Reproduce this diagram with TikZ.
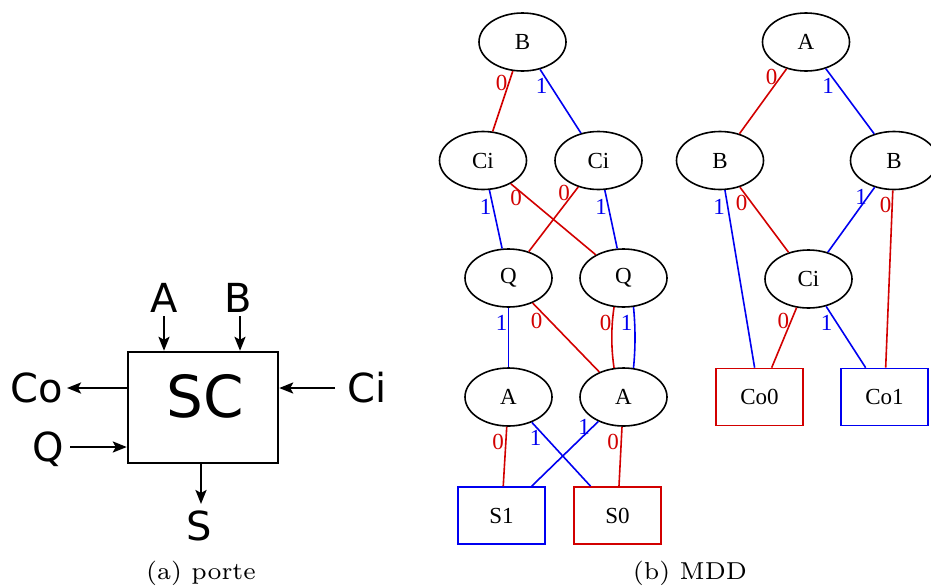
\documentclass[tikz,border=0pt]{standalone}
\usepackage{fontspec}
\usepackage{graphicx}
\newfontfamily\dvs{DejaVu Sans}
\newfontfamily\tms{Liberation Serif}
\usetikzlibrary{shapes.geometric,arrows.meta}
\definecolor{er}{RGB}{210,0,0}
\definecolor{eb}{RGB}{0,0,240}
\begin{document}
\begin{tikzpicture}[x=1pt,y=-1pt,
 bdd/.style={ellipse,draw=black,line width=1.6pt,minimum width=87pt,minimum height=58pt,inner sep=0pt,font=\tms\fontsize{23}{27}\selectfont},
 leaf/.style={rectangle,draw,line width=1.6pt,minimum width=87pt,minimum height=57pt,inner sep=0pt,font=\tms\fontsize{23}{27}\selectfont},
 ez/.style={er,line width=1.6pt},
 eo/.style={eb,line width=1.6pt},
 lz/.style={text=er,inner sep=0pt,font=\tms\fontsize{23}{27}\selectfont},
 lo/.style={text=eb,inner sep=0pt,font=\tms\fontsize{23}{27}\selectfont},
 big/.style={font=\dvs\fontsize{40}{48}\selectfont,inner sep=0pt,anchor=base},
 arr/.style={line width=2.4pt,-{Stealth[length=14pt,width=11pt,inset=3pt]}},
 capt/.style={inner sep=0pt,anchor=base}
]
\useasboundingbox (0,0) rectangle (931,587);

% ---------- (a) porte ----------
\node[draw,line width=2.4pt,minimum width=150pt,minimum height=111pt,inner sep=0pt] (sc) at (203,407.5) {};
\node[font=\dvs\fontsize{58}{64}\selectfont,inner sep=0pt,anchor=base] (sct) at (205.5,417) {SC};
\node[big] (la) at (164,312) {A};
\node[big] (lb) at (238.5,312) {B};
\node[big] (lco) at (37,402) {Co};
\node[big] (lci) at (367,402) {Ci};
\node[big] (lq) at (48,461) {Q};
\node[big] (ls) at (199,540) {S};
\coordinate (pA) at (164,316);
\coordinate (pB) at (240,316);
\coordinate (pCo) at (67,388);
\coordinate (pCi) at (335,388);
\coordinate (pQ) at (70,447);
\coordinate (pS) at (201,504);
\draw[arr] (pA) -- (pA |- sc.north);
\draw[arr] (pB) -- (pB |- sc.north);
\draw[arr] (pCo -| sc.west) -- (pCo);
\draw[arr] (pCi) -- (pCi -| sc.east);
\draw[arr] (pQ) -- (pQ -| sc.west);
\draw[arr] (pS |- sc.south) -- (pS);
\node[capt] (capa) at (201,579) {\scalebox{3.5}{\fontsize{7}{8}\selectfont (a) porte}};

% ---------- (b) MDD, left ----------
\node[bdd] (b1) at (522.5,42) {B};
\node[bdd] (ci1) at (483,160.5) {Ci};
\node[bdd] (ci2) at (598.5,160.5) {Ci};
\node[bdd] (q1) at (508.5,278) {Q};
\node[bdd] (q2) at (623.5,278) {Q};
\node[bdd] (a1) at (508.5,397) {A};
\node[bdd] (a2) at (623.5,397) {A};
\node[leaf,draw=eb] (s1) at (501.5,515.5) {S1};
\node[leaf,draw=er] (s0) at (617.5,515.5) {S0};

\draw[ez] (b1) -- (ci1);
\draw[eo] (b1) -- (ci2);
\draw[eo] (ci1) -- (q1);
\draw[ez] (ci1) -- (q2);
\draw[ez] (ci2) -- (q1);
\draw[eo] (ci2) -- (q2);
\draw[eo] (q1) -- (a1);
\draw[ez] (q1) -- (a2);
\draw[ez] (q2.-108.6) .. controls +(-3,20) and +(-3,-20) .. (a2.108.6);
\draw[eo] (q2.-71.4) .. controls +(2,20) and +(2,-20) .. (a2.71.4);
\draw[ez] (a1) -- (s1);
\draw[eo] (a1) -- (s0);
\draw[eo] (a2) -- (s1);
\draw[ez] (a2) -- (s0);

\node[lz] (t1) at (501.7,83) {0};
\node[lo] (t2) at (541.7,86) {1};
\node[lo] (t3) at (485.7,206.7) {1};
\node[lz] (t4) at (516,198) {0};
\node[lz] (t5) at (564,193) {0};
\node[lo] (t6) at (601,207) {1};
\node[lo] (t7) at (501.7,322.7) {1};
\node[lz] (t8) at (536.7,320.7) {0};
\node[lz] (t9) at (605.7,323.3) {0};
\node[lo] (t10) at (626.7,323.3) {1};
\node[lz] (t11) at (498,442) {0};
\node[lo] (t12) at (535.7,438) {1};
\node[lo] (t13) at (584,426.7) {1};
\node[lz] (t14) at (613,442) {0};

% ---------- (b) MDD, right ----------
\node[bdd] (ra) at (806,42) {A};
\node[bdd] (rb1) at (720,160.5) {B};
\node[bdd] (rb2) at (894,160.5) {B};
\node[bdd] (rci) at (808.5,279) {Ci};
\node[leaf,draw=er] (co0) at (759.5,397) {Co0};
\node[leaf,draw=eb] (co1) at (884.5,397) {Co1};

\draw[ez] (ra) -- (rb1);
\draw[eo] (ra) -- (rb2);
\draw[eo] (rb1) -- (co0);
\draw[ez] (rb1) -- (rci);
\draw[eo] (rb2) -- (rci);
\draw[ez] (rb2) -- (co1);
\draw[ez] (rci) -- (co0);
\draw[eo] (rci) -- (co1);

\node[lz] (u1) at (771.7,76.7) {0};
\node[lo] (u2) at (828,86) {1};
\node[lo] (u3) at (719,206.7) {1};
\node[lz] (u4) at (741.7,203.3) {0};
\node[lo] (u5) at (861,196.7) {1};
\node[lz] (u6) at (885.7,205) {0};
\node[lz] (u7) at (783.3,320.7) {0};
\node[lo] (u8) at (826.7,323.3) {1};

\node[capt] (capb) at (690,579) {\scalebox{3.5}{\fontsize{7}{8}\selectfont (b) MDD}};
\end{tikzpicture}
\end{document}
